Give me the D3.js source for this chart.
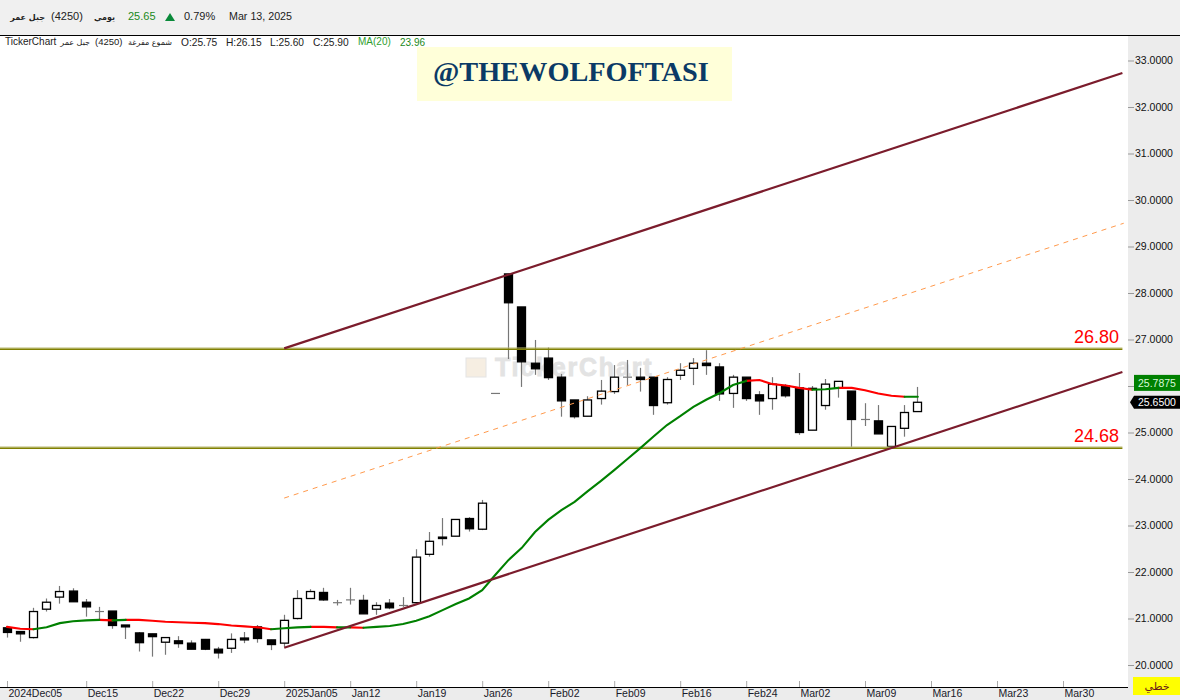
<!DOCTYPE html>
<html><head><meta charset="utf-8">
<script src="https://cdn.jsdelivr.net/npm/d3@7"></script>
<style>
html,body{margin:0;padding:0;background:#fff;overflow:hidden}
text{font-family:"Liberation Sans",Arial,sans-serif}
</style></head><body><svg id="c" width="1180" height="700"></svg>
<script>
const opens=[20.80,20.72,20.59,21.20,21.46,21.59,21.35,21.15,21.16,20.86,20.69,20.67,20.49,20.52,20.47,20.55,20.34,20.36,20.58,20.82,20.54,20.47,21.00,21.43,21.56,21.34,21.40,21.39,21.20,21.33,21.28,21.34,22.38,22.75,22.77,23.15,22.92,25.84,28.41,27.70,26.49,26.60,26.19,25.70,25.35,25.73,25.88,26.19,26.19,26.19,25.64,26.23,26.38,26.49,26.41,25.84,26.19,25.81,25.73,26.00,25.96,25.05,25.58,25.95,25.89,25.28,25.25,24.70,25.09,25.45];
const highs=[20.83,20.73,21.23,21.43,21.70,21.65,21.42,21.25,21.16,20.86,20.71,20.67,20.59,20.62,20.53,20.56,20.39,20.68,20.71,20.86,20.54,21.08,21.61,21.63,21.66,21.40,21.66,21.51,21.35,21.42,21.46,22.49,22.86,23.16,23.13,23.18,23.55,25.84,28.41,27.70,26.99,26.83,26.26,25.70,25.78,26.13,26.45,26.56,26.39,26.19,26.19,26.49,26.60,26.77,26.49,26.24,26.19,25.89,26.19,26.04,26.28,26.00,26.15,26.10,25.89,25.63,25.59,25.13,25.59,25.98];
const lows=[20.59,20.50,20.57,21.15,21.32,21.36,21.04,20.97,20.78,20.56,20.29,20.18,20.22,20.37,20.34,20.32,20.14,20.26,20.47,20.48,20.32,20.39,20.98,21.43,21.38,21.28,21.30,21.10,21.08,21.20,21.25,21.34,22.33,22.57,22.77,22.87,22.90,25.84,26.58,25.98,26.24,26.13,25.34,25.30,25.35,25.60,25.83,26.02,25.88,25.38,25.60,26.13,26.02,26.24,25.68,25.53,25.68,25.38,25.49,25.75,24.95,25.05,25.49,25.75,24.69,25.14,24.97,24.70,24.91,25.45];
const closes=[20.70,20.67,21.15,21.35,21.58,21.36,21.25,21.15,20.85,20.82,20.48,20.61,20.59,20.46,20.34,20.34,20.26,20.55,20.54,20.57,20.44,20.96,21.43,21.58,21.40,21.34,21.40,21.10,21.28,21.23,21.28,22.32,22.66,22.72,23.13,22.93,23.48,25.84,27.79,26.52,26.37,26.18,25.68,25.34,25.70,25.89,26.19,26.19,26.14,25.58,26.14,26.34,26.49,26.44,25.83,26.19,25.73,25.68,26.04,25.79,25.00,25.95,26.04,26.10,25.28,25.28,24.97,25.13,25.43,25.65];
const ma20=[20.82,20.78,20.77,20.81,20.90,20.94,20.96,20.97,20.96,20.97,20.97,20.95,20.93,20.92,20.91,20.90,20.88,20.85,20.83,20.81,20.77,20.79,20.81,20.82,20.82,20.81,20.81,20.80,20.82,20.84,20.88,20.95,21.05,21.18,21.31,21.43,21.61,21.94,22.26,22.52,22.86,23.12,23.33,23.51,23.74,23.96,24.19,24.43,24.67,24.92,25.16,25.35,25.55,25.71,25.85,26.02,26.11,26.13,26.04,26.01,25.96,25.92,25.93,25.96,25.96,25.91,25.84,25.79,25.77,25.77];
const maFalling=[[0,2],[7,8],[9,20],[23,25],[26,27],[56,61],[63,68]];
const maRising=[[2,7],[8,9],[20,23],[25,26],[27,56],[61,63],[68,69]];
const tickIndex=[0,6,11,16,21,26,31,36,41,46,51,56,60,65,70,75,80];
const tickLabels=["2024Dec05","Dec15","Dec22","Dec29","2025Jan05","Jan12","Jan19","Jan26","Feb02","Feb09","Feb16","Feb24","Mar02","Mar09","Mar16","Mar23","Mar30"];
const priceTicks=[20,21,22,23,24,25,26,27,28,29,30,31,32,33];
const hiddenPriceLabels=[26];
const trendUpper=[[21,26.81],[84.5,32.73]];
const trendLower=[[21,20.37],[84.5,26.30]];
const trendMid=[[21,23.59],[84.6,29.50]];
const levels=[26.80,24.68];
const levelLabels=["26.80","24.68"];
const lastMA=25.7875, lastClose=25.65;

const svg=d3.select("#c");
const x=d3.scaleLinear().domain([0,80]).range([7,1063]);
const y=d3.scaleLinear().domain([20,33]).range([665,60.5]);
const W=1128,B=687,T=36;
const LEVEL_END=84.5;

// panels
svg.append("rect").attr("x",W).attr("y",T).attr("width",52).attr("height",664).attr("fill","#ececec");
svg.append("rect").attr("x",0).attr("y",B).attr("width",1180).attr("height",13).attr("fill","#ececec");
svg.append("rect").attr("x",0).attr("y",0).attr("width",1180).attr("height",35).attr("fill","#f0f0f0");
svg.append("line").attr("x1",0).attr("x2",1180).attr("y1",35.5).attr("y2",35.5).attr("stroke","#000");

// banner
svg.append("rect").attr("x",417).attr("y",47).attr("width",315).attr("height",54).attr("fill","#ffffd9");
svg.append("text").attr("x",433).attr("y",81).text("@THEWOLFOFTASI")
 .style("font-family","'Liberation Serif',serif").style("font-weight","bold").style("font-size","28.3px").attr("fill","#0b3a66");

// watermark
svg.append("rect").attr("x",466).attr("y",358).attr("width",20).attr("height",19).attr("fill","#f6eee2").attr("stroke","#e4e4e4");
svg.append("text").attr("x",495).attr("y",376).text("TickerChart").style("font-weight","bold").style("font-size","25px").style("letter-spacing","1.8px").attr("fill","#e3e3e3").attr("stroke","#e3e3e3").attr("stroke-width",0.8);

// x axis
const xAxis=d3.axisBottom(x).tickValues(tickIndex).tickFormat((d,i)=>tickLabels[i]).tickSize(0).tickPadding(0);
const gx=svg.append("g").attr("transform",`translate(0,${B})`).call(xAxis);
gx.select(".domain").remove();
gx.selectAll("text").attr("text-anchor","start").attr("dx",1).attr("y",3).attr("dy","0.71em").style("font-size","10.5px").style("font-family","'Liberation Sans'").attr("fill","#1a1a2a");
gx.selectAll("line").attr("y1",-6).attr("y2",0).attr("stroke","#aaa");
svg.append("line").attr("x1",0).attr("x2",W).attr("y1",B+.5).attr("y2",B+.5).attr("stroke","#000");

// y axis
const yAxis=d3.axisRight(y).tickValues(priceTicks).tickFormat(d=>hiddenPriceLabels.includes(d)?"":d3.format(".4f")(d)).tickSize(6).tickPadding(1);
const gy=svg.append("g").attr("transform",`translate(${W},0)`).call(yAxis);
gy.select(".domain").remove();
gy.selectAll("line").attr("stroke","#999");
gy.selectAll("text").style("font-size","10.5px").style("font-family","'Liberation Sans'").attr("fill","#111");

const ln=d3.line().x(d=>x(d[0])).y(d=>y(d[1]));
const cx=i=>Math.floor(x(i));

// candles
const n=closes.length, idx=d3.range(n);
const g=svg.append("g");
g.selectAll("line.w").data(idx.filter(i=>highs[i]>lows[i])).join("line").attr("class","w")
 .attr("x1",i=>cx(i)+.5).attr("x2",i=>cx(i)+.5).attr("y1",i=>y(highs[i])).attr("y2",i=>y(lows[i]))
 .attr("stroke","#777").attr("stroke-width",1.2);
g.selectAll("line.d").data(idx.filter(i=>opens[i]===closes[i])).join("line").attr("class","d")
 .attr("x1",i=>cx(i)-4).attr("x2",i=>cx(i)+5).attr("y1",i=>y(opens[i])).attr("y2",i=>y(opens[i]))
 .attr("stroke","#777").attr("stroke-width",1.2);
const bodies=idx.filter(i=>opens[i]!==closes[i]);
g.selectAll("rect.b").data(bodies).join("rect").attr("class","b")
 .attr("x",i=>cx(i)-3.5).attr("width",8)
 .attr("y",i=>Math.min(y(opens[i]),y(closes[i])))
 .attr("height",i=>Math.max(1,Math.abs(y(opens[i])-y(closes[i]))))
 .attr("fill",i=>closes[i]>opens[i]?"#fff":"#000").attr("stroke","#000").attr("stroke-width",1.3);

// hlines
levels.forEach((v,k)=>{
 const yy=Math.ceil(y(v));
 svg.append("line").attr("x1",0).attr("x2",x(LEVEL_END)).attr("y1",yy-1).attr("y2",yy-1).attr("stroke","#b8b870").attr("stroke-width",1);
 svg.append("line").attr("x1",0).attr("x2",x(LEVEL_END)).attr("y1",yy+.3).attr("y2",yy+.3).attr("stroke","#808000").attr("stroke-width",1.6);
 svg.append("text").attr("x",1119).attr("y",y(v)-5.5).attr("text-anchor","end").text(levelLabels[k]).style("font-size","18px").attr("fill","#ff0000");
});
// MA
[[maFalling,"#ff0000"],[maRising,"#008000"]].forEach(([rs,c])=>rs.forEach(([a,b])=>{
 svg.append("path").attr("d",ln(d3.range(a,b+1).map(i=>[i,ma20[i]]))).attr("fill","none").attr("stroke",c).attr("stroke-width",2.1).attr("stroke-linecap","round");
}));
// trends
[trendUpper,trendLower].forEach(t=>svg.append("path").attr("d",ln(t)).attr("fill","none").attr("stroke","#7b1c2c").attr("stroke-width",2.2));
svg.append("path").attr("d",ln(trendMid)).attr("fill","none").attr("stroke","#ff9a4d").attr("stroke-width",1).attr("stroke-dasharray","5,5");

// tags
const tagY=y(lastMA)-13;
svg.append("rect").attr("x",1134).attr("y",tagY-8).attr("width",46).attr("height",16).attr("fill","#008000");
svg.append("text").attr("x",1138).attr("y",tagY+4).text(d3.format(".4f")(lastMA)).style("font-size","10.5px").attr("fill","#d8f8d8");
const cy=y(lastClose);
svg.append("path").attr("d",d3.line()([[1130,cy],[1134,cy-6.5],[1180,cy-6.5],[1180,cy+6.5],[1134,cy+6.5]])+"Z").attr("fill","#000");
svg.append("text").attr("x",1138).attr("y",cy+4).text(d3.format(".4f")(lastClose)).style("font-size","10.5px").attr("fill","#fff");

// bottom-right box
svg.append("rect").attr("x",1133).attr("y",677).attr("width",47).attr("height",18).attr("fill","#ffff00");
svg.append("text").attr("x",1157).attr("y",690).attr("text-anchor","middle").text("خطي").style("font-size","11px").style("font-family","'DejaVu Sans'").attr("fill","#6b1a1a");

// headers
function t(xp,yp,s,o={}){const e=svg.append("text").attr("x",xp).attr("y",yp).text(s).style("font-size",(o.size||11)+"px").attr("fill",o.fill||"#222");
 if(o.weight)e.style("font-weight",o.weight); if(o.anchor)e.attr("text-anchor",o.anchor); if(o.font)e.style("font-family",o.font); return e;}
t(45,20,"جبل عمر",{anchor:"end",weight:"bold",size:8,font:"'DejaVu Sans'"});
t(51,20,"(4250)",{size:11});
t(115,20,"يومي",{anchor:"end",size:8,weight:"bold",font:"'DejaVu Sans'"});
t(128,20,"25.65",{fill:"#1a8a1a",size:11});
svg.append("path").attr("d",d3.line()([[165,21],[175,21],[170,13]])+"Z").attr("fill","#0a8a3a");
t(184,20,"0.79%",{size:11});
t(229,20,"Mar 13, 2025",{size:10.7});
t(5,45,"TickerChart",{size:10});
t(90,45,"جبل عمر",{anchor:"end",size:8,font:"'DejaVu Sans'"});
t(95,45,"(4250)",{size:9.5});
t(172,45,"شموع مفرغة",{anchor:"end",size:8,font:"'DejaVu Sans'"});
t(181,46,"O:25.75",{size:10.2});
t(226,46,"H:26.15",{size:10.2});
t(270,46,"L:25.60",{size:10.2});
t(313,46,"C:25.90",{size:10.2});
t(358,45,"MA(20)",{fill:"#2e9e2e",size:10});
t(400,46,"23.96",{fill:"#1a8a1a",size:10});
</script></body></html>
